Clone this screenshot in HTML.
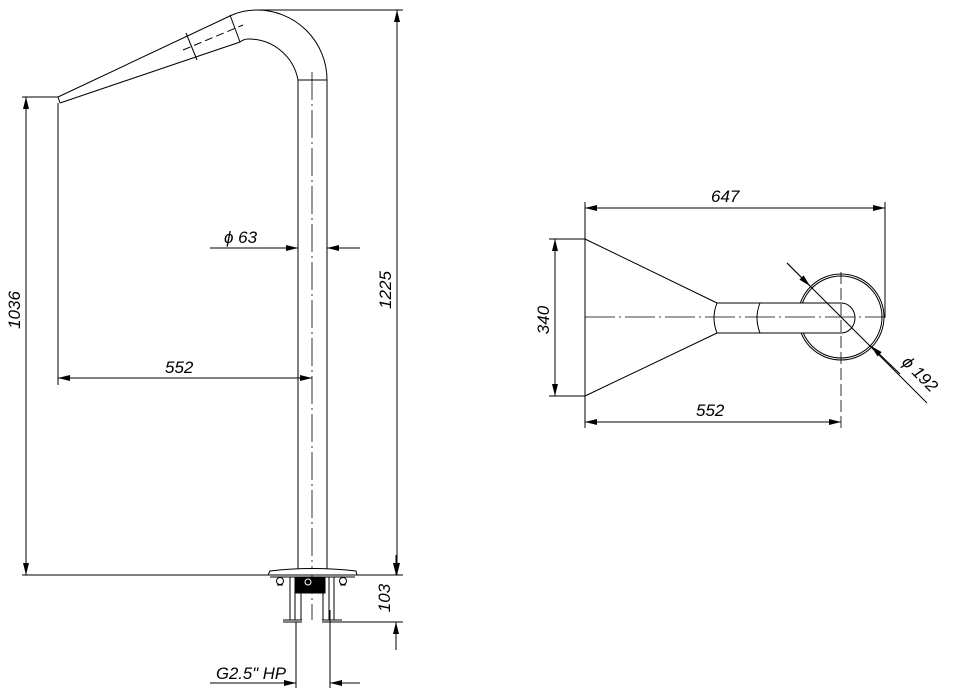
<!DOCTYPE html>
<html><head><meta charset="utf-8"><style>
html,body{margin:0;padding:0;background:#fff;}
svg{display:block}
text{font-family:"Liberation Sans",sans-serif;font-style:italic;font-size:17px;fill:#000}
</style></head><body>
<svg width="953" height="700" viewBox="0 0 953 700" xmlns="http://www.w3.org/2000/svg">
<defs>
<marker id="a" viewBox="0 0 12 6" refX="12" refY="3" markerWidth="14" markerHeight="6" markerUnits="userSpaceOnUse" orient="auto-start-reverse"><path d="M0,0 L12,3 L0,6 z" fill="#000"/></marker>
</defs>
<g stroke="#000" stroke-width="1" fill="none">
<path d="M58,97 L232,15 Q244,10 257,10 A70,70 0 0 1 327,80 L327,575"/>
<path d="M60,103 L240,42 Q244,39 248,39 A50,50 0 0 1 298,80 L298,575"/>
<line x1="58" y1="97" x2="60" y2="103"/>
<line x1="298" y1="80" x2="327" y2="80"/>
<line x1="186" y1="33" x2="197" y2="60"/>
<line x1="230" y1="15" x2="240" y2="42"/>
<line x1="183" y1="50" x2="243" y2="25" stroke-dasharray="8,4"/>
<line x1="312" y1="72" x2="312" y2="620" stroke-dasharray="28,4,2,4" stroke-width="0.8"/>
<line x1="257" y1="10" x2="403" y2="10"/>
<line x1="397" y1="10" x2="397" y2="575" marker-start="url(#a)" marker-end="url(#a)"/>
<line x1="22" y1="97" x2="58" y2="97"/>
<line x1="26" y1="97" x2="26" y2="575" marker-start="url(#a)" marker-end="url(#a)"/>
<line x1="58" y1="103" x2="58" y2="385"/>
<line x1="22" y1="575" x2="403" y2="575"/>
<line x1="58" y1="378" x2="312" y2="378" marker-start="url(#a)" marker-end="url(#a)"/>
<line x1="210" y1="248" x2="298" y2="248" marker-end="url(#a)"/>
<line x1="360" y1="248" x2="327" y2="248" marker-end="url(#a)"/>
<path d="M270,571 Q312,566 356,571 L357,575 L268,575 Z" fill="#fff"/>
<line x1="270" y1="577" x2="355" y2="577"/>
<rect x="296" y="577" width="29" height="16" fill="#000"/>
<circle cx="280" cy="581" r="3.5"/><line x1="277" y1="585" x2="283" y2="585"/>
<circle cx="343" cy="581" r="3.5"/><line x1="340" y1="585" x2="346" y2="585"/>
<circle cx="308" cy="582" r="3" stroke="#fff"/>
<line x1="290" y1="577" x2="290" y2="620"/><line x1="295" y1="577" x2="295" y2="620"/>
<line x1="301" y1="593" x2="301" y2="620"/>
<line x1="323" y1="593" x2="323" y2="620"/><line x1="329" y1="577" x2="329" y2="620"/>
<line x1="334" y1="577" x2="334" y2="620"/>
<path d="M283,622 L302,622 M283,620 L302,620 M322,622 L342,622 M322,620 L342,620"/>
<line x1="342" y1="622" x2="403" y2="622"/>
<line x1="396" y1="555" x2="396" y2="575" marker-end="url(#a)"/>
<line x1="396" y1="650" x2="396" y2="622" marker-end="url(#a)"/>
<line x1="296" y1="622" x2="296" y2="688"/>
<line x1="330" y1="610" x2="330" y2="688"/>
<line x1="210" y1="683" x2="296" y2="683" marker-end="url(#a)"/>
<line x1="360" y1="683" x2="330" y2="683" marker-end="url(#a)"/>
<line x1="585" y1="202" x2="585" y2="428"/>
<line x1="885" y1="202" x2="885" y2="317"/>
<line x1="585" y1="208" x2="885" y2="208" marker-start="url(#a)" marker-end="url(#a)"/>
<line x1="585" y1="239" x2="717" y2="303"/>
<line x1="585" y1="396" x2="717" y2="333"/>
<line x1="549" y1="239" x2="585" y2="239"/>
<line x1="549" y1="396" x2="585" y2="396"/>
<line x1="555" y1="239" x2="555" y2="396" marker-start="url(#a)" marker-end="url(#a)"/>
<circle cx="841" cy="317" r="43"/>
<circle cx="841" cy="317" r="41"/>
<path d="M717,303 L841,303 A14,15 0 0 1 841,333 L717,333" fill="#fff"/>
<path d="M717,303 Q711,318 717,333"/>
<path d="M760,303 Q754,318 760,333"/>
<line x1="585" y1="317" x2="886" y2="317" stroke-dasharray="30,4,2,4" stroke-width="0.8"/>
<line x1="841" y1="272" x2="841" y2="428" stroke-dasharray="12,4" stroke-width="0.8"/>
<line x1="585" y1="422" x2="841" y2="422" marker-start="url(#a)" marker-end="url(#a)"/>
<line x1="787" y1="263" x2="927" y2="403"/>
<line x1="787" y1="263" x2="810" y2="286" marker-end="url(#a)"/>
<line x1="900" y1="374" x2="871" y2="346" marker-end="url(#a)"/>
</g>
<text x="224" y="243">ϕ 63</text>
<text x="165" y="373">552</text>
<text transform="translate(20,310) rotate(-90)" text-anchor="middle">1036</text>
<text transform="translate(391,290) rotate(-90)" text-anchor="middle">1225</text>
<text transform="translate(390,598) rotate(-90)" text-anchor="middle">103</text>
<text x="216" y="679" textLength="70" lengthAdjust="spacingAndGlyphs">G2.5" HP</text>
<text x="711" y="202">647</text>
<text x="696" y="416">552</text>
<text transform="translate(549,320) rotate(-90)" text-anchor="middle">340</text>
<text transform="translate(916,378) rotate(45)" text-anchor="middle">ϕ 192</text>
</svg>
</body></html>
